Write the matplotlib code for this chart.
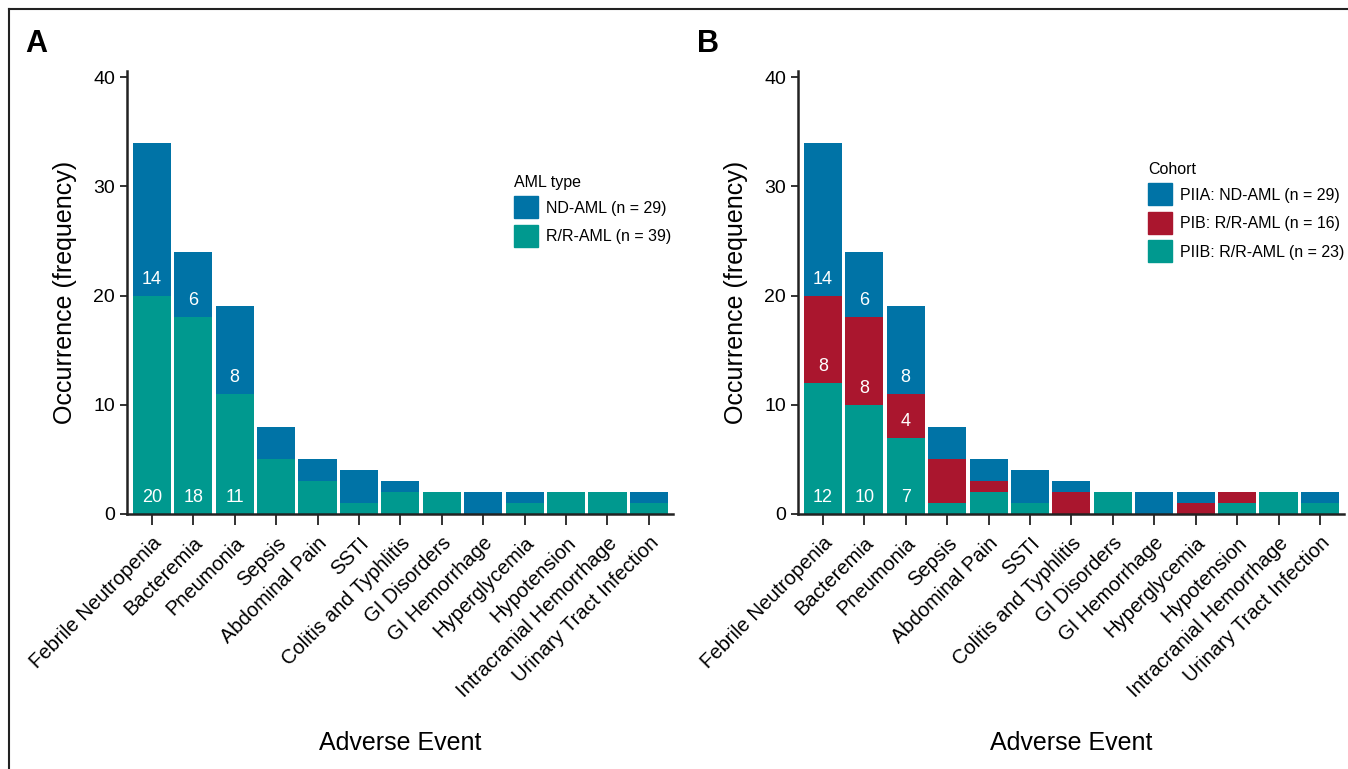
import matplotlib.pyplot as plt
import numpy as np
from matplotlib.patches import Patch
from matplotlib.lines import Line2D

plt.rcParams['font.family'] = ['Liberation Sans', 'DejaVu Sans']

events = [
    "Febrile Neutropenia", "Bacteremia", "Pneumonia", "Sepsis", "Abdominal Pain",
    "SSTI", "Colitis and Typhlitis", "GI Disorders", "GI Hemorrhage",
    "Hyperglycemia", "Hypotension", "Intracranial Hemorrhage", "Urinary Tract Infection",
]

# panel A: AML type
nd_aml = [14, 6, 8, 3, 2, 3, 1, 0, 2, 1, 0, 0, 1]
rr_aml = [20, 18, 11, 5, 3, 1, 2, 2, 0, 1, 2, 2, 1]

# panel B: cohort
piia_nd = [14, 6, 8, 3, 2, 3, 1, 0, 2, 1, 0, 0, 1]
pib_rr = [8, 8, 4, 4, 1, 0, 2, 0, 0, 1, 1, 0, 0]
piib_rr = [12, 10, 7, 1, 2, 1, 0, 2, 0, 0, 1, 2, 1]

BLUE = "#0073a6"
TEAL = "#00998f"
RED = "#aa162e"

N_LABELED = 3  # value labels only on the three most frequent events


def stacked(ax, layers):
    x = np.arange(len(events))
    bottom = np.zeros(len(events))
    for vals, color in layers:
        vals = np.array(vals, dtype=float)
        ax.bar(x, vals, bottom=bottom, width=0.92, color=color, linewidth=0)
        for i in range(N_LABELED):
            if vals[i] > 0:
                ax.text(x[i], bottom[i] + 1.5, f"{int(vals[i])}", ha="center", va="center",
                        color="white", fontsize=13)
        bottom += vals

    ax.set_xlim(-0.6, len(events) - 0.42)
    ax.set_ylim(0, 40.6)
    ax.set_yticks([0, 10, 20, 30, 40])
    ax.set_xticks(x)
    ax.set_xticklabels(events, rotation=45, ha="right", rotation_mode="anchor", fontsize=14.5)
    ax.tick_params(axis="y", labelsize=14, length=5, width=1.3, color="#222222")
    ax.tick_params(axis="x", length=8, width=1.3, color="#222222", pad=6)
    for side in ("top", "right"):
        ax.spines[side].set_visible(False)
    for side in ("left", "bottom"):
        ax.spines[side].set_linewidth(1.8)
        ax.spines[side].set_color("#222222")
    ax.set_ylabel("Occurrence (frequency)", fontsize=18, labelpad=12)
    ax.set_xlabel("Adverse Event", fontsize=18, labelpad=22)


fig = plt.figure(figsize=(13.48, 7.69), dpi=100)
ax_a = fig.add_axes([0.0942, 0.3316, 0.405, 0.5767])
ax_b = fig.add_axes([0.592, 0.3316, 0.405, 0.5767])

stacked(ax_a, [(rr_aml, TEAL), (nd_aml, BLUE)])
stacked(ax_b, [(piib_rr, TEAL), (pib_rr, RED), (piia_nd, BLUE)])

legend_kw = dict(alignment="left", frameon=False, fontsize=11.5, title_fontsize=11.5,
                 loc="upper left", bbox_transform=fig.transFigure,
                 handlelength=1.5, handleheight=1.75, handletextpad=0.5, labelspacing=0.4,
                 borderpad=0)
ax_a.legend(
    handles=[Patch(color=BLUE, label="ND-AML (n = 29)"), Patch(color=TEAL, label="R/R-AML (n = 39)")],
    title="AML type", bbox_to_anchor=(506 / 1348, 1 - 167 / 769), **legend_kw,
)
ax_b.legend(
    handles=[Patch(color=BLUE, label="PIIA: ND-AML (n = 29)"),
             Patch(color=RED, label="PIB: R/R-AML (n = 16)"),
             Patch(color=TEAL, label="PIIB: R/R-AML (n = 23)")],
    title="Cohort", bbox_to_anchor=(1140 / 1348, 1 - 154 / 769), **legend_kw,
)

fig.text(25 / 1348, 1 - 44 / 769, "A", fontsize=22, fontweight="bold", va="center")
fig.text(697 / 1348, 1 - 44 / 769, "B", fontsize=22, fontweight="bold", va="center")

# open frame along the top and left edges
fig.add_artist(Line2D([9 / 1348, 9 / 1348], [0, 1 - 9 / 769], transform=fig.transFigure,
                      color="#222222", lw=1.5))
fig.add_artist(Line2D([9 / 1348, 1], [1 - 9 / 769, 1 - 9 / 769], transform=fig.transFigure,
                      color="#222222", lw=1.5))

fig.savefig("out.png", dpi=100)
